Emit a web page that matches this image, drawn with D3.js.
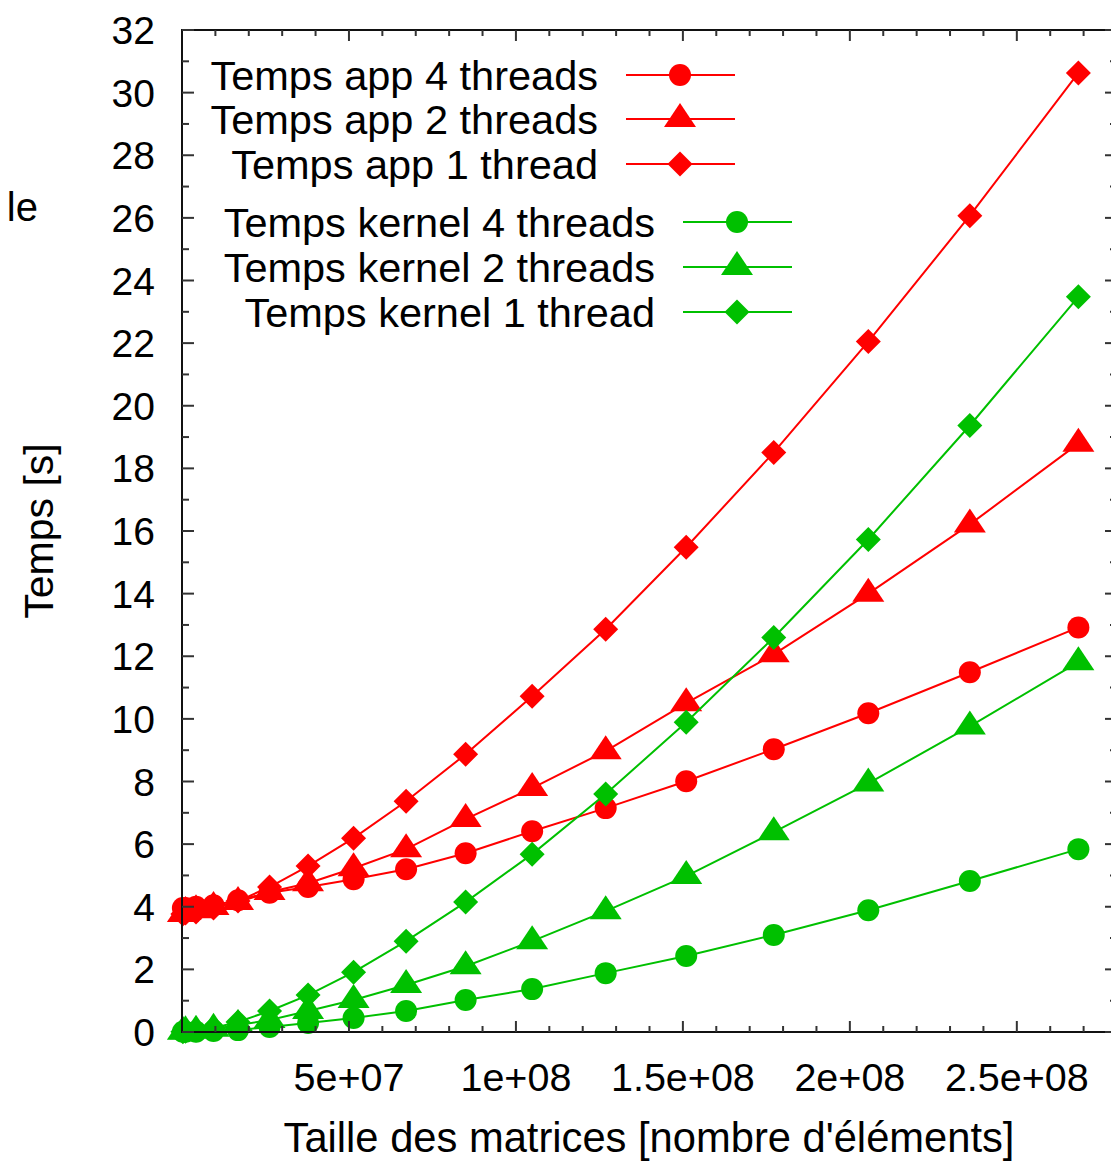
<!DOCTYPE html>
<html>
<head>
<meta charset="utf-8">
<script src="https://cdn.jsdelivr.net/npm/d3@7"></script>
<style>
  body { margin: 0; background: #fff; }
  svg { display: block; font-family: "Liberation Sans", Arial, sans-serif; }
</style>
</head>
<body>
<svg id="svg"></svg>
<script>
// matrix sizes (number of elements)
const sizes = [262144, 1048576, 4194304, 9437184, 16777216, 26214400, 37748736, 51380224,
  67108864, 84934656, 104857600, 126877696, 150994944, 177209344, 205520896, 235929600, 268435456];

const app4 = [3.96, 3.96, 4.0, 4.05, 4.21, 4.45, 4.63, 4.88, 5.2, 5.71, 6.41, 7.15, 8.01, 9.03, 10.18, 11.49, 12.92];
const app2 = [3.77, 3.83, 3.89, 3.99, 4.15, 4.47, 4.75, 5.23, 5.84, 6.8, 7.79, 8.97, 10.5, 12.06, 14.0, 16.21, 18.79];
const app1 = [3.77, 3.8, 3.83, 3.96, 4.18, 4.63, 5.3, 6.19, 7.37, 8.87, 10.72, 12.86, 15.48, 18.51, 22.05, 26.07, 30.63];
const kern4 = [0.01, 0.01, 0.01, 0.03, 0.06, 0.16, 0.29, 0.45, 0.67, 1.02, 1.37, 1.88, 2.43, 3.1, 3.89, 4.82, 5.84];
const kern2 = [0.01, 0.02, 0.04, 0.1, 0.22, 0.38, 0.67, 1.02, 1.5, 2.1, 2.9, 3.86, 4.98, 6.38, 7.94, 9.76, 11.81];
const kern1 = [0.01, 0.02, 0.06, 0.13, 0.32, 0.67, 1.18, 1.91, 2.9, 4.15, 5.68, 7.6, 9.89, 12.6, 15.73, 19.37, 23.48];

const seriesNames = ["Temps app 4 threads", "Temps app 2 threads", "Temps app 1 thread",
  "Temps kernel 4 threads", "Temps kernel 2 threads", "Temps kernel 1 thread"];
const xTickValues = [5e7, 1e8, 1.5e8, 2e8, 2.5e8];
const xTickLabels = ["5e+07", "1e+08", "1.5e+08", "2e+08", "2.5e+08"];

const width = 1111, height = 1163;
const margin = { left: 182, top: 30, right: -6, bottom: 131 };
const red = "#ff0000", green = "#00c000";

const shapes = {
  circle: "M11,0A11,11 0 1,1 -11,0A11,11 0 1,1 11,0Z",
  triangle: "M0,-16L16,8L-16,8Z",
  diamond: "M0,-12.5L12.5,0L0,12.5L-12.5,0Z"
};

const series = [
  { name: seriesNames[0], values: app4, color: red, shape: "circle" },
  { name: seriesNames[1], values: app2, color: red, shape: "triangle" },
  { name: seriesNames[2], values: app1, color: red, shape: "diamond" },
  { name: seriesNames[3], values: kern4, color: green, shape: "circle" },
  { name: seriesNames[4], values: kern2, color: green, shape: "triangle" },
  { name: seriesNames[5], values: kern1, color: green, shape: "diamond" }
];

const svg = d3.select("#svg").attr("width", width).attr("height", height);

const x = d3.scaleLinear().domain([0, 2.8e8]).range([margin.left, width - margin.right]);
const y = d3.scaleLinear().domain([0, 32]).range([height - margin.bottom, margin.top]);

const line = d3.line().x((d, i) => x(sizes[i])).y(d => y(d));

// data
const g = svg.append("g");
for (const s of series) {
  g.append("path")
    .attr("d", line(s.values))
    .attr("fill", "none")
    .attr("stroke", s.color)
    .attr("stroke-width", 2);
  g.append("g").selectAll("path")
    .data(s.values)
    .join("path")
      .attr("transform", (d, i) => `translate(${x(sizes[i])},${y(d)})`)
      .attr("d", shapes[s.shape])
      .attr("fill", s.color);
}

// frame and ticks (gnuplot style, ticks inward on all sides)
const x0 = x.range()[0], x1 = x.range()[1], y0 = y.range()[0], y1 = y.range()[1];
const frame = svg.append("g").attr("stroke", "#333").attr("stroke-width", 2);
frame.append("rect")
  .attr("x", x0).attr("y", y1).attr("width", x1 - x0).attr("height", y0 - y1)
  .attr("fill", "none").attr("stroke", "#111");

const yMinor = d3.range(0, 33, 1);
frame.selectAll(".yt").data(yMinor).join("g").each(function(v) {
  const len = v % 2 === 0 ? 12 : 7;
  d3.select(this).append("line").attr("x1", x0).attr("x2", x0 + len).attr("y1", y(v)).attr("y2", y(v));
  d3.select(this).append("line").attr("x1", x1).attr("x2", x1 - len).attr("y1", y(v)).attr("y2", y(v));
});
const xMinor = d3.range(1e7, 2.8e8 + 1, 1e7);
frame.selectAll(".xt").data(xMinor).join("g").each(function(v) {
  const major = Math.round(v / 1e7) % 5 === 0;
  const len = major ? 11 : 6;
  d3.select(this).append("line").attr("y1", y0).attr("y2", y0 - len).attr("x1", x(v)).attr("x2", x(v));
  d3.select(this).append("line").attr("y1", y1).attr("y2", y1 + len).attr("x1", x(v)).attr("x2", x(v));
});

// tick labels
svg.append("g").attr("font-size", 39).attr("text-anchor", "end").attr("fill", "#000")
  .selectAll("text").data(d3.range(0, 33, 2)).join("text")
    .attr("x", 155).attr("y", d => y(d)).attr("dy", "0.36em")
    .text(d => d);

svg.append("g").attr("font-size", 39.5).attr("text-anchor", "middle").attr("fill", "#000")
  .selectAll("text").data(xTickValues).join("text")
    .attr("x", d => x(d)).attr("y", 1091)
    .text((d, i) => xTickLabels[i]);

// axis titles
svg.append("text")
  .attr("x", 649).attr("y", 1152)
  .attr("text-anchor", "middle").attr("font-size", 41.7)
  .text("Taille des matrices [nombre d'éléments]");

svg.append("text")
  .attr("transform", "translate(53,531) rotate(-90)")
  .attr("text-anchor", "middle").attr("font-size", 41)
  .text("Temps [s]");

// cut-off text from the surrounding page
svg.append("text")
  .attr("x", 38).attr("y", 221)
  .attr("text-anchor", "end").attr("font-size", 40)
  .text("le");

// legend
const legend = svg.append("g").attr("font-size", 41.5);
const legendRows = [
  { s: series[0], tx: 598, cy: 75 },
  { s: series[1], tx: 598, cy: 119 },
  { s: series[2], tx: 598, cy: 164 },
  { s: series[3], tx: 655, cy: 222 },
  { s: series[4], tx: 655, cy: 267 },
  { s: series[5], tx: 655, cy: 312 }
];
for (const r of legendRows) {
  const lg = legend.append("g");
  lg.append("text")
    .attr("x", r.tx).attr("y", r.cy).attr("dy", "0.35em")
    .attr("text-anchor", "end")
    .text(r.s.name);
  lg.append("line")
    .attr("x1", r.tx + 28).attr("x2", r.tx + 137)
    .attr("y1", r.cy).attr("y2", r.cy)
    .attr("stroke", r.s.color).attr("stroke-width", 2);
  lg.append("path")
    .attr("transform", `translate(${r.tx + 82},${r.cy})`)
    .attr("d", shapes[r.s.shape])
    .attr("fill", r.s.color);
}
</script>
</body>
</html>
